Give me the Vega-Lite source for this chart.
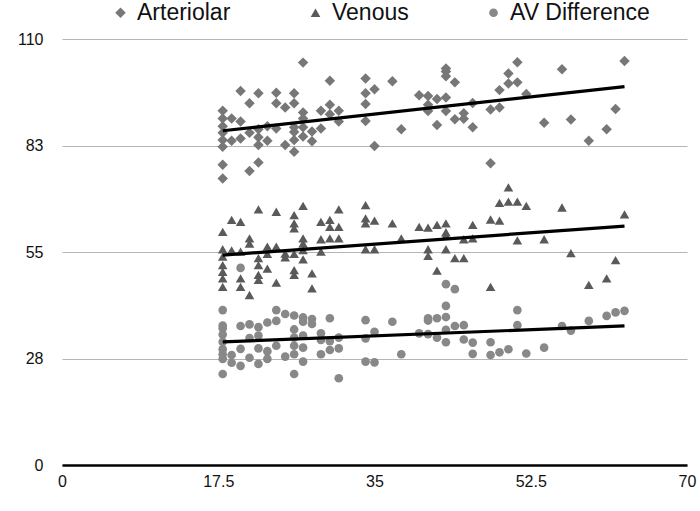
{
  "$schema": "https://vega.github.io/schema/vega-lite/v6.json",
  "width": 625,
  "height": 426,
  "autosize": "none",
  "padding": {"left": 62, "top": 39, "right": 13, "bottom": 46},
  "background": "white",
  "config": {
    "view": {"stroke": null},
    "font": "Liberation Sans",
    "axis": {"labelFont": "Liberation Sans", "labelFontSize": 16, "labelColor": "#111", "ticks": false, "title": null}
  },
  "datasets": {
    "pts": [
      {"s":"Arteriolar","x":18,"y":91.5},{"s":"Arteriolar","x":18,"y":89.5},{"s":"Arteriolar","x":18,"y":87.5},{"s":"Arteriolar","x":18,"y":85.8},{"s":"Arteriolar","x":18,"y":83.9},{"s":"Arteriolar","x":18,"y":82.2},{"s":"Arteriolar","x":18,"y":77.5},{"s":"Arteriolar","x":18,"y":74.0},
      {"s":"Arteriolar","x":19,"y":89.5},{"s":"Arteriolar","x":19,"y":83.7},
      {"s":"Arteriolar","x":20,"y":96.6},{"s":"Arteriolar","x":20,"y":88.7},{"s":"Arteriolar","x":20,"y":84.3},
      {"s":"Arteriolar","x":21,"y":93.4},{"s":"Arteriolar","x":21,"y":85.8},{"s":"Arteriolar","x":21,"y":75.9},
      {"s":"Arteriolar","x":22,"y":96.0},{"s":"Arteriolar","x":22,"y":86.7},{"s":"Arteriolar","x":22,"y":84.6},{"s":"Arteriolar","x":22,"y":82.6},{"s":"Arteriolar","x":22,"y":78.1},
      {"s":"Arteriolar","x":23,"y":87.5},{"s":"Arteriolar","x":23,"y":83.7},
      {"s":"Arteriolar","x":24,"y":96.1},{"s":"Arteriolar","x":24,"y":93.4},{"s":"Arteriolar","x":24,"y":86.9},
      {"s":"Arteriolar","x":25,"y":92.3},{"s":"Arteriolar","x":25,"y":82.6},
      {"s":"Arteriolar","x":26,"y":96.0},{"s":"Arteriolar","x":26,"y":93.4},{"s":"Arteriolar","x":26,"y":87.2},{"s":"Arteriolar","x":26,"y":86.0},{"s":"Arteriolar","x":26,"y":83.9},{"s":"Arteriolar","x":26,"y":80.9},
      {"s":"Arteriolar","x":27,"y":103.9},{"s":"Arteriolar","x":27,"y":91.0},{"s":"Arteriolar","x":27,"y":89.5},{"s":"Arteriolar","x":27,"y":87.2},{"s":"Arteriolar","x":27,"y":84.8},
      {"s":"Arteriolar","x":28,"y":86.1},{"s":"Arteriolar","x":28,"y":83.6},
      {"s":"Arteriolar","x":29,"y":91.5},{"s":"Arteriolar","x":29,"y":86.9},
      {"s":"Arteriolar","x":30,"y":99.2},{"s":"Arteriolar","x":30,"y":93.0},{"s":"Arteriolar","x":30,"y":90.6},
      {"s":"Arteriolar","x":31,"y":91.5},{"s":"Arteriolar","x":31,"y":88.7},
      {"s":"Arteriolar","x":34,"y":99.8},{"s":"Arteriolar","x":34,"y":96.0},{"s":"Arteriolar","x":34,"y":93.2},{"s":"Arteriolar","x":34,"y":88.8},
      {"s":"Arteriolar","x":35,"y":97.0},{"s":"Arteriolar","x":35,"y":82.4},
      {"s":"Arteriolar","x":37,"y":99.1},
      {"s":"Arteriolar","x":38,"y":86.7},
      {"s":"Arteriolar","x":40,"y":95.5},
      {"s":"Arteriolar","x":41,"y":95.3},{"s":"Arteriolar","x":41,"y":93.0},{"s":"Arteriolar","x":41,"y":91.4},
      {"s":"Arteriolar","x":42,"y":94.5},{"s":"Arteriolar","x":42,"y":87.8},
      {"s":"Arteriolar","x":43,"y":102.4},{"s":"Arteriolar","x":43,"y":101.6},{"s":"Arteriolar","x":43,"y":100.4},{"s":"Arteriolar","x":43,"y":94.9},{"s":"Arteriolar","x":43,"y":91.4},
      {"s":"Arteriolar","x":44,"y":98.8},{"s":"Arteriolar","x":44,"y":89.3},
      {"s":"Arteriolar","x":45,"y":90.8},{"s":"Arteriolar","x":45,"y":89.4},
      {"s":"Arteriolar","x":46,"y":93.5},{"s":"Arteriolar","x":46,"y":87.2},
      {"s":"Arteriolar","x":48,"y":91.8},{"s":"Arteriolar","x":48,"y":77.9},
      {"s":"Arteriolar","x":49,"y":96.8},{"s":"Arteriolar","x":49,"y":92.3},
      {"s":"Arteriolar","x":50,"y":101.1},{"s":"Arteriolar","x":50,"y":98.5},
      {"s":"Arteriolar","x":51,"y":104.0},{"s":"Arteriolar","x":51,"y":98.8},
      {"s":"Arteriolar","x":52,"y":95.8},
      {"s":"Arteriolar","x":54,"y":88.4},
      {"s":"Arteriolar","x":56,"y":102.2},
      {"s":"Arteriolar","x":57,"y":89.2},
      {"s":"Arteriolar","x":59,"y":83.7},
      {"s":"Arteriolar","x":61,"y":86.7},
      {"s":"Arteriolar","x":62,"y":91.9},
      {"s":"Arteriolar","x":63,"y":104.3},

      {"s":"Venous","x":18,"y":60.2},{"s":"Venous","x":18,"y":55.7},{"s":"Venous","x":18,"y":53.8},{"s":"Venous","x":18,"y":51.6},{"s":"Venous","x":18,"y":49.9},{"s":"Venous","x":18,"y":48.2},{"s":"Venous","x":18,"y":46.0},
      {"s":"Venous","x":19,"y":63.3},{"s":"Venous","x":19,"y":55.4},
      {"s":"Venous","x":20,"y":62.8},{"s":"Venous","x":20,"y":55.1},{"s":"Venous","x":20,"y":48.2},{"s":"Venous","x":20,"y":46.0},
      {"s":"Venous","x":21,"y":58.5},{"s":"Venous","x":21,"y":57.2},{"s":"Venous","x":21,"y":43.9},
      {"s":"Venous","x":22,"y":66.0},{"s":"Venous","x":22,"y":53.4},{"s":"Venous","x":22,"y":51.6},{"s":"Venous","x":22,"y":49.1},{"s":"Venous","x":22,"y":47.8},
      {"s":"Venous","x":23,"y":56.4},{"s":"Venous","x":23,"y":54.5},{"s":"Venous","x":23,"y":50.7},
      {"s":"Venous","x":24,"y":65.4},{"s":"Venous","x":24,"y":56.4},{"s":"Venous","x":24,"y":47.1},
      {"s":"Venous","x":25,"y":54.6},{"s":"Venous","x":25,"y":53.6},
      {"s":"Venous","x":26,"y":64.5},{"s":"Venous","x":26,"y":62.4},{"s":"Venous","x":26,"y":61.1},{"s":"Venous","x":26,"y":54.5},{"s":"Venous","x":26,"y":50.3},{"s":"Venous","x":26,"y":49.1},
      {"s":"Venous","x":27,"y":66.9},{"s":"Venous","x":27,"y":58.5},{"s":"Venous","x":27,"y":57.2},{"s":"Venous","x":27,"y":55.5},{"s":"Venous","x":27,"y":53.1},
      {"s":"Venous","x":28,"y":49.5},{"s":"Venous","x":28,"y":45.6},
      {"s":"Venous","x":29,"y":62.8},{"s":"Venous","x":29,"y":58.3},{"s":"Venous","x":29,"y":55.1},
      {"s":"Venous","x":30,"y":63.3},{"s":"Venous","x":30,"y":61.5},{"s":"Venous","x":30,"y":58.5},
      {"s":"Venous","x":31,"y":66.0},{"s":"Venous","x":31,"y":61.5},{"s":"Venous","x":31,"y":58.5},
      {"s":"Venous","x":34,"y":67.1},{"s":"Venous","x":34,"y":63.7},{"s":"Venous","x":34,"y":62.4},{"s":"Venous","x":34,"y":55.7},
      {"s":"Venous","x":35,"y":63.1},{"s":"Venous","x":35,"y":55.7},
      {"s":"Venous","x":37,"y":62.4},
      {"s":"Venous","x":38,"y":58.5},
      {"s":"Venous","x":40,"y":61.5},
      {"s":"Venous","x":41,"y":61.3},{"s":"Venous","x":41,"y":55.7},{"s":"Venous","x":41,"y":54.0},
      {"s":"Venous","x":42,"y":62.0},{"s":"Venous","x":42,"y":50.2},
      {"s":"Venous","x":43,"y":62.4},{"s":"Venous","x":43,"y":60.1},{"s":"Venous","x":43,"y":59.3},{"s":"Venous","x":43,"y":55.7},
      {"s":"Venous","x":44,"y":53.4},
      {"s":"Venous","x":45,"y":58.3},{"s":"Venous","x":45,"y":53.4},
      {"s":"Venous","x":46,"y":62.0},{"s":"Venous","x":46,"y":58.5},
      {"s":"Venous","x":48,"y":63.4},{"s":"Venous","x":48,"y":46.0},
      {"s":"Venous","x":49,"y":67.7},{"s":"Venous","x":49,"y":63.1},
      {"s":"Venous","x":50,"y":71.7},{"s":"Venous","x":50,"y":68.0},
      {"s":"Venous","x":51,"y":68.0},{"s":"Venous","x":51,"y":58.0},
      {"s":"Venous","x":52,"y":66.9},
      {"s":"Venous","x":54,"y":58.3},
      {"s":"Venous","x":56,"y":66.5},
      {"s":"Venous","x":57,"y":54.7},
      {"s":"Venous","x":59,"y":46.5},
      {"s":"Venous","x":61,"y":48.2},
      {"s":"Venous","x":62,"y":52.9},
      {"s":"Venous","x":63,"y":64.7},

      {"s":"AV Difference","x":18,"y":40.0},{"s":"AV Difference","x":18,"y":36.0},{"s":"AV Difference","x":18,"y":35.3},{"s":"AV Difference","x":18,"y":33.7},{"s":"AV Difference","x":18,"y":31.8},{"s":"AV Difference","x":18,"y":29.9},{"s":"AV Difference","x":18,"y":28.6},{"s":"AV Difference","x":18,"y":27.4},{"s":"AV Difference","x":18,"y":23.5},
      {"s":"AV Difference","x":19,"y":28.4},{"s":"AV Difference","x":19,"y":26.4},
      {"s":"AV Difference","x":20,"y":50.9},{"s":"AV Difference","x":20,"y":35.9},{"s":"AV Difference","x":20,"y":30.0},{"s":"AV Difference","x":20,"y":25.6},
      {"s":"AV Difference","x":21,"y":36.3},{"s":"AV Difference","x":21,"y":32.8},{"s":"AV Difference","x":21,"y":27.7},
      {"s":"AV Difference","x":22,"y":35.6},{"s":"AV Difference","x":22,"y":33.4},{"s":"AV Difference","x":22,"y":30.1},{"s":"AV Difference","x":22,"y":26.1},
      {"s":"AV Difference","x":23,"y":36.8},{"s":"AV Difference","x":23,"y":29.4},{"s":"AV Difference","x":23,"y":27.4},
      {"s":"AV Difference","x":24,"y":40.0},{"s":"AV Difference","x":24,"y":37.2},{"s":"AV Difference","x":24,"y":30.8},
      {"s":"AV Difference","x":25,"y":39.0},{"s":"AV Difference","x":25,"y":28.0},
      {"s":"AV Difference","x":26,"y":38.6},{"s":"AV Difference","x":26,"y":35.0},{"s":"AV Difference","x":26,"y":32.9},{"s":"AV Difference","x":26,"y":30.8},{"s":"AV Difference","x":26,"y":28.6},{"s":"AV Difference","x":26,"y":23.5},
      {"s":"AV Difference","x":27,"y":38.1},{"s":"AV Difference","x":27,"y":37.0},{"s":"AV Difference","x":27,"y":33.4},{"s":"AV Difference","x":27,"y":30.3},{"s":"AV Difference","x":27,"y":26.7},
      {"s":"AV Difference","x":28,"y":37.7},{"s":"AV Difference","x":28,"y":36.4},
      {"s":"AV Difference","x":29,"y":34.0},{"s":"AV Difference","x":29,"y":32.3},{"s":"AV Difference","x":29,"y":28.6},
      {"s":"AV Difference","x":30,"y":37.9},{"s":"AV Difference","x":30,"y":32.0},{"s":"AV Difference","x":30,"y":29.7},
      {"s":"AV Difference","x":31,"y":32.9},{"s":"AV Difference","x":31,"y":30.1},{"s":"AV Difference","x":31,"y":22.4},
      {"s":"AV Difference","x":34,"y":37.4},{"s":"AV Difference","x":34,"y":32.7},{"s":"AV Difference","x":34,"y":26.7},
      {"s":"AV Difference","x":35,"y":34.4},{"s":"AV Difference","x":35,"y":26.5},
      {"s":"AV Difference","x":37,"y":37.0},
      {"s":"AV Difference","x":38,"y":28.6},
      {"s":"AV Difference","x":40,"y":34.0},
      {"s":"AV Difference","x":41,"y":37.9},{"s":"AV Difference","x":41,"y":37.3},{"s":"AV Difference","x":41,"y":33.8},
      {"s":"AV Difference","x":42,"y":37.9},{"s":"AV Difference","x":42,"y":32.9},
      {"s":"AV Difference","x":43,"y":46.7},{"s":"AV Difference","x":43,"y":41.1},{"s":"AV Difference","x":43,"y":38.2},{"s":"AV Difference","x":43,"y":34.9},{"s":"AV Difference","x":43,"y":31.7},
      {"s":"AV Difference","x":44,"y":45.4},{"s":"AV Difference","x":44,"y":35.9},
      {"s":"AV Difference","x":45,"y":36.1},{"s":"AV Difference","x":45,"y":32.4},
      {"s":"AV Difference","x":46,"y":31.6},{"s":"AV Difference","x":46,"y":28.7},
      {"s":"AV Difference","x":48,"y":31.7},{"s":"AV Difference","x":48,"y":28.4},
      {"s":"AV Difference","x":49,"y":29.1},
      {"s":"AV Difference","x":50,"y":29.9},
      {"s":"AV Difference","x":51,"y":40.0},{"s":"AV Difference","x":51,"y":36.1},
      {"s":"AV Difference","x":52,"y":28.8},
      {"s":"AV Difference","x":54,"y":30.3},
      {"s":"AV Difference","x":56,"y":35.9},
      {"s":"AV Difference","x":57,"y":34.7},
      {"s":"AV Difference","x":59,"y":37.2},
      {"s":"AV Difference","x":61,"y":38.5},
      {"s":"AV Difference","x":62,"y":39.4},
      {"s":"AV Difference","x":63,"y":39.8}
    ],
    "trend": [
      {"s":"Arteriolar","x":18,"y":86.3},{"s":"Arteriolar","x":63,"y":97.7},
      {"s":"Venous","x":18,"y":54.2},{"s":"Venous","x":63,"y":61.7},
      {"s":"AV Difference","x":18,"y":31.8},{"s":"AV Difference","x":63,"y":35.9}
    ]
  },
  "layer": [
    {
      "data": {"name": "pts"},
      "mark": {"type": "point", "filled": true, "opacity": 1, "strokeWidth": 0},
      "encoding": {
        "x": {"field": "x", "type": "quantitative",
              "scale": {"domain": [0, 70], "nice": false, "zero": true},
              "axis": {"values": [0, 17.5, 35, 52.5, 70], "format": ".3~g", "grid": false,
                       "domain": true, "domainColor": "#000", "domainWidth": 2.5,
                       "labelPadding": 8, "labelFlush": false}},
        "y": {"field": "y", "type": "quantitative",
              "scale": {"domain": [0, 110], "nice": false},
              "axis": {"values": [0, 27.5, 55, 82.5, 110], "format": ".0f", "grid": true,
                       "gridColor": "#b5b5b5", "gridWidth": 1, "domain": false,
                       "labelPadding": 19}},
        "color": {"field": "s", "type": "nominal",
                  "scale": {"domain": ["Arteriolar", "Venous", "AV Difference"], "range": ["#777777", "#5a5a5a", "#888888"]},
                  "legend": {"title": null, "orient": "none", "direction": "horizontal", "legendX": 47, "legendY": -38,
                             "labelFontSize": 23, "labelFont": "Liberation Sans", "labelColor": "#111",
                             "symbolSize": 45, "labelOffset": 5, "columnPadding": 73, "symbolStrokeWidth": 0}},
        "shape": {"field": "s", "type": "nominal",
                  "scale": {"domain": ["Arteriolar", "Venous", "AV Difference"], "range": ["diamond", "triangle-up", "circle"]}},
        "size": {"field": "s", "type": "nominal",
                 "scale": {"domain": ["Arteriolar", "Venous", "AV Difference"], "range": [110, 75, 28]},
                 "legend": null}
      }
    },
    {
      "data": {"name": "trend"},
      "mark": {"type": "line", "color": "#000", "strokeWidth": 3.2},
      "encoding": {
        "x": {"field": "x", "type": "quantitative"},
        "y": {"field": "y", "type": "quantitative"},
        "detail": {"field": "s", "type": "nominal"}
      }
    }
  ]
}
